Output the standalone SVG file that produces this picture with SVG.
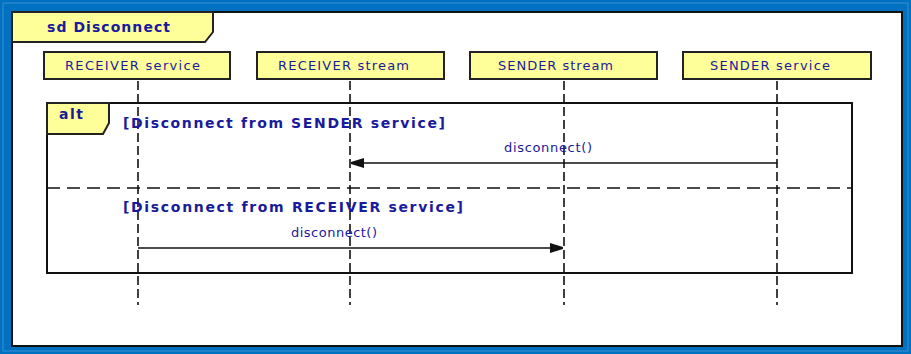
<svg xmlns="http://www.w3.org/2000/svg" width="911" height="354" viewBox="0 0 911 354">
<defs>
<style>
.lbl{font-family:"DejaVu Sans","Liberation Sans",sans-serif;font-size:13px;fill:#1a1a9c}
.bold{font-family:"DejaVu Sans","Liberation Sans",sans-serif;font-size:14px;font-weight:bold;fill:#1a1a9c}
.hdr{fill:#ffff99;stroke:#222;stroke-width:2}
.life{stroke:#111;stroke-width:1.6;stroke-dasharray:9 4;fill:none}
.msg{stroke:#111;stroke-width:1.6;fill:none}
</style>
<marker id="ah" viewBox="0 0 14 10" refX="13" refY="5" markerWidth="14" markerHeight="10" markerUnits="userSpaceOnUse" orient="auto">
<path d="M0,0 L13,4 L13,6 L0,10 Z" fill="#111"/>
</marker>
</defs>
<rect x="0" y="0" width="911" height="354" fill="#0070c0"/>
<rect x="3" y="3" width="905" height="348" fill="none" stroke="#3d8fd0" stroke-width="1"/>
<rect x="12" y="12" width="890" height="334" fill="#ffffff" stroke="#111" stroke-width="2"/>
<g id="frame-tab">
<path d="M12,12 L213,12 L213,32 L205,42 L12,42 Z" class="hdr"/>
<text x="47" y="32" class="bold" textLength="123" lengthAdjust="spacing">sd Disconnect</text>
</g>
<g id="connectors">
<line x1="138" y1="81" x2="138" y2="305" class="life"/>
<line x1="350" y1="81" x2="350" y2="305" class="life"/>
<line x1="564" y1="81" x2="564" y2="305" class="life"/>
<line x1="777" y1="81" x2="777" y2="305" class="life"/>
<line x1="777" y1="163" x2="351" y2="163" class="msg" marker-end="url(#ah)"/>
<line x1="138" y1="248" x2="563" y2="248" class="msg" marker-end="url(#ah)"/>
</g>
<g id="alt">
<rect x="47" y="103" width="805" height="170" fill="none" stroke="#111" stroke-width="2"/>
<path d="M47,103 L109,103 L109,123 L103,134 L47,134 Z" class="hdr"/>
<text x="59" y="119" class="bold" textLength="24" lengthAdjust="spacing">alt</text>
<line x1="47" y1="188" x2="852" y2="188" stroke="#111" stroke-width="1.6" stroke-dasharray="13 7"/>
<text x="123" y="128" class="bold" textLength="322" lengthAdjust="spacing">[Disconnect from SENDER service]</text>
<text x="123" y="212" class="bold" textLength="340" lengthAdjust="spacing">[Disconnect from RECEIVER service]</text>
</g>
<g id="msg1-label"><text x="504" y="152" class="lbl" textLength="88" lengthAdjust="spacing">disconnect()</text></g>
<g id="msg2-label"><text x="291" y="237" class="lbl" textLength="86" lengthAdjust="spacing">disconnect()</text></g>
<g id="receiver-service">
<rect x="44" y="52" width="186" height="27" class="hdr"/>
<text x="65" y="70" class="lbl" textLength="135" lengthAdjust="spacing">RECEIVER service</text>
</g>
<g id="receiver-stream">
<rect x="257" y="52" width="187" height="27" class="hdr"/>
<text x="278" y="70" class="lbl" textLength="131" lengthAdjust="spacing">RECEIVER stream</text>
</g>
<g id="sender-stream">
<rect x="470" y="52" width="187" height="27" class="hdr"/>
<text x="498" y="70" class="lbl" textLength="115" lengthAdjust="spacing">SENDER stream</text>
</g>
<g id="sender-service">
<rect x="683" y="52" width="188" height="27" class="hdr"/>
<text x="710" y="70" class="lbl" textLength="120" lengthAdjust="spacing">SENDER service</text>
</g>
</svg>
